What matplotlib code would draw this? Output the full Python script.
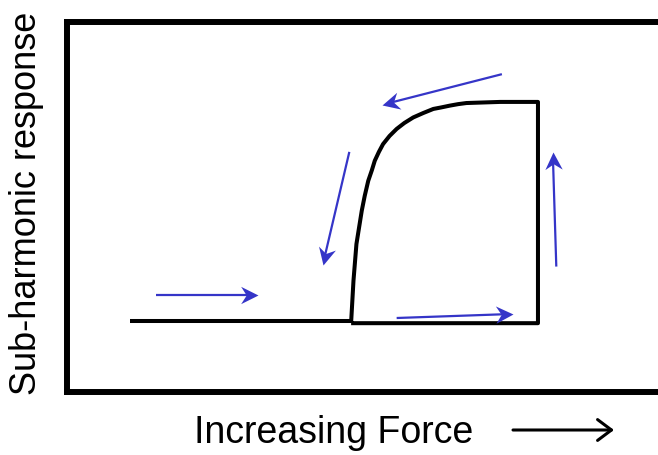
import numpy as np
import matplotlib
matplotlib.use("Agg")
import matplotlib.pyplot as plt
from matplotlib.path import Path
from matplotlib.markers import MarkerStyle
from matplotlib.transforms import Affine2D
from matplotlib.patches import FancyArrowPatch, ArrowStyle

plt.rcParams["font.family"] = ["Liberation Sans", "DejaVu Sans"]

# Sub-harmonic response vs. increasing force (hysteresis loop, arbitrary units)
force_low = [10.7, 48.1]
resp_low = [19.2, 19.2]

force_up = [48.1, 48.5, 49.0, 49.9, 50.4, 51.0, 51.6, 52.1, 52.8, 53.5, 54.6, 55.8, 57.1,
            58.6, 60.3, 62.0, 63.3, 64.8, 66.2, 67.6, 73.3, 79.7]
resp_up = [18.8, 30.1, 40.0, 49.0, 53.0, 57.1, 59.9, 62.5, 64.9, 67.0, 69.2, 71.1, 72.7,
           74.2, 75.4, 76.5, 76.9, 77.4, 77.8, 78.1, 78.4, 78.4]

force_drop = [79.7, 79.7, 48.1]
resp_drop = [78.4, 18.6, 18.6]

# Direction arrows: (tail, head)
arrow_tails = [(15.1, 26.2), (73.6, 85.9), (47.8, 64.9), (55.8, 20.0), (82.8, 33.9)]
arrow_heads = [(32.4, 26.2), (53.3, 77.6), (43.3, 34.3), (75.5, 21.1), (82.2, 64.9)]

xlabel = "Increasing Force"
ylabel = "Sub-harmonic response"

W, H = 658, 456
fig = plt.figure(figsize=(W / 100, H / 100), dpi=100)
left_px, top_px, bottom_px = 66.7, 23.0, 393.0
ax = fig.add_axes([left_px / W, (H - bottom_px) / H, (W - left_px) / W, (bottom_px - top_px) / H])
ax.set_xlim(0, 100)
ax.set_ylim(0, 100)
ax.set_xticks([])
ax.set_yticks([])
for side in ["left", "top", "bottom"]:
    ax.spines[side].set_linewidth(4.3)
    ax.spines[side].set_color("black")
    ax.spines[side].set_capstyle("projecting")
ax.spines["right"].set_visible(False)

lw_curve = 2.9
ax.plot(force_low, resp_low, color="black", lw=lw_curve, solid_capstyle="butt")
loop_x = force_up + force_drop[1:]
loop_y = resp_up + resp_drop[1:]
ax.plot(loop_x, loop_y, color="black", lw=lw_curve, solid_joinstyle="round",
        solid_capstyle="butt")

# Stealth-style arrowheads
blue = "#3535C8"
head_path = Path([(0, 0), (-1, 0.5), (-0.68, 0), (-1, -0.5), (0, 0)],
                 [Path.MOVETO, Path.LINETO, Path.LINETO, Path.LINETO, Path.CLOSEPOLY])
head_ms = 25.0  # marker size in points -> head length = 0.5 * head_ms
fig.canvas.draw()
for (tx, ty), (hx, hy) in zip(arrow_tails, arrow_heads):
    p0 = ax.transData.transform((tx, ty))
    p1 = ax.transData.transform((hx, hy))
    d = p1 - p0
    ang = np.arctan2(d[1], d[0])
    # stop the shaft inside the head so it doesn't poke through the tip
    stop = p1 - d / np.linalg.norm(d) * (0.5 * head_ms * 100 / 72 * 0.6)
    sx, sy = ax.transData.inverted().transform(stop)
    ax.plot([tx, sx], [ty, sy], color=blue, lw=1.6, solid_capstyle="butt")
    m = MarkerStyle(head_path, transform=Affine2D().rotate(ang))
    ax.plot([hx], [hy], marker=m, markersize=head_ms, color=blue,
            markeredgewidth=0, linestyle="none")

fig.text(334 / W, 1 - 443 / H, xlabel, fontsize=27, ha="center", va="baseline")
fig.text(36.5 / W, 1 - 203 / H, ylabel, fontsize=26, rotation=90,
         rotation_mode="anchor", ha="center", va="baseline")

arr = FancyArrowPatch((513 / W, 1 - 431 / H), (614 / W, 1 - 431 / H),
                      transform=fig.transFigure,
                      arrowstyle=ArrowStyle("->", head_length=10, head_width=7.5),
                      mutation_scale=1, lw=2.2, color="black",
                      shrinkA=0, shrinkB=0)
fig.add_artist(arr)

fig.savefig("out.png", dpi=100)
